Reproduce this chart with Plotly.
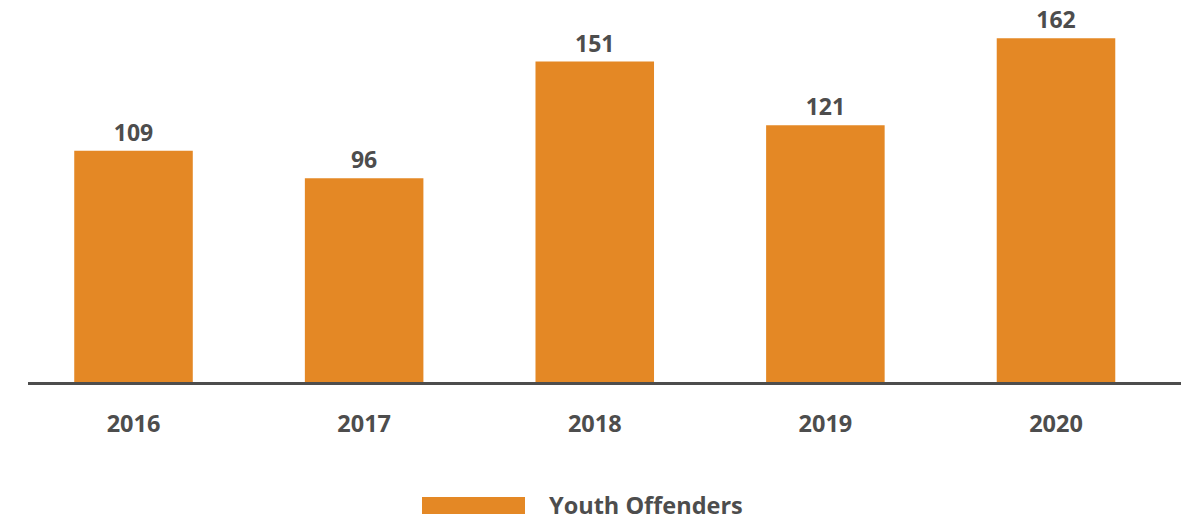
import plotly.graph_objects as go

# Youth offenders per year
years = ["2016", "2017", "2018", "2019", "2020"]
offenders = [109, 96, 151, 121, 162]
series_name = "Youth Offenders"

bar_color = "#E48825"
text_color = "#4D4D4D"
font_family = "Open Sans, Noto Sans, sans-serif"

fig = go.Figure()
fig.add_trace(go.Bar(
    x=years,
    y=offenders,
    name=series_name,
    marker=dict(color=bar_color, line=dict(width=0)),
    text=offenders,
    texttemplate="%{text}",
    textposition="outside",
    textfont=dict(family=font_family, size=23, color=text_color, weight="bold"),
    cliponaxis=False,
    showlegend=False,
))

# Legend drawn as a wide swatch plus a label below the plot
fig.add_shape(type="rect", xref="paper", yref="paper",
              x0=(422 - 28) / 1153, x1=(525 - 28) / 1153,
              y0=-(514 - 382) / 382, y1=-(497 - 382) / 382,
              fillcolor=bar_color, line=dict(width=0))
fig.add_annotation(text=series_name, xref="paper", yref="paper",
                   x=(547 - 28) / 1153, y=-(505 - 382) / 382,
                   xanchor="left", yanchor="middle", showarrow=False,
                   font=dict(family=font_family, size=23.5, color=text_color, weight="bold"))

fig.update_layout(
    width=1198, height=522,
    margin=dict(l=28, r=17, t=0, b=140),
    plot_bgcolor="white", paper_bgcolor="white",
    bargap=0.486,
    font=dict(family=font_family, color=text_color),
    xaxis=dict(
        type="category",
        range=[-0.4575, 4.542],
        showline=True, linecolor="#4D4D4D", linewidth=2.5,
        showgrid=False, zeroline=False,
        ticks="", ticklabelstandoff=19,
        tickfont=dict(family=font_family, size=23.5, color=text_color, weight="bold"),
    ),
    yaxis=dict(
        range=[0, 180],
        visible=False, showgrid=False, zeroline=False,
    ),
)

fig.write_html("out.html")
